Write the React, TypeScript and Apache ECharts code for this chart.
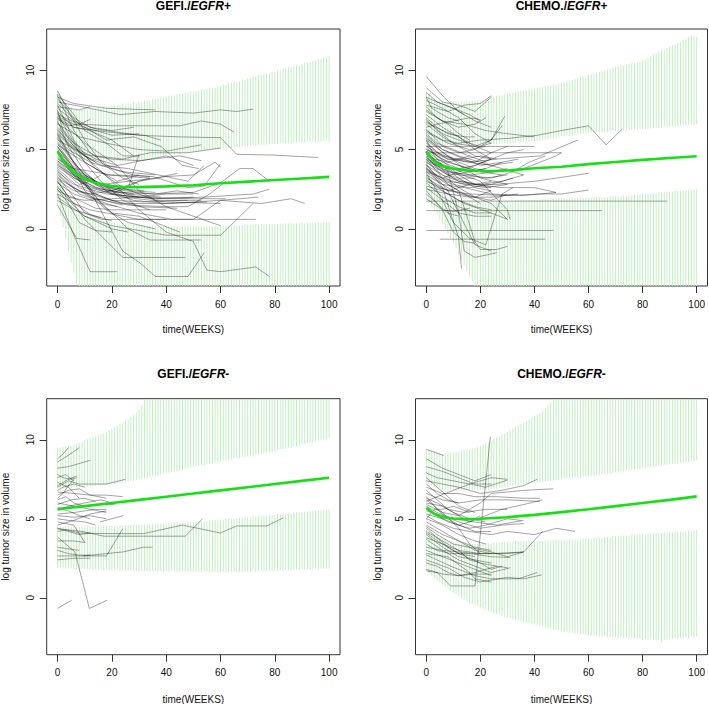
import React, { useEffect, useRef } from "react";
import * as echarts from "echarts";

// ---------- axes ----------
const xTicks = [0, 20, 40, 60, 80, 100];
const yTicks = [0, 5, 10];
const weeks = Array.from({ length: 101 }, (_, i) => i);

// ---------- titles ----------
const panelTitles = [
  ["GEFI./", "EGFR+"],
  ["CHEMO./", "EGFR+"],
  ["GEFI./", "EGFR-"],
  ["CHEMO./", "EGFR-"],
];
const xName = "time(WEEKS)";
const yName = "log tumor size in volume";

// ---------- mean curves (week, value) ----------
const gefiPosMeanW = [0, 2, 4, 6, 8, 10, 14, 20, 24, 30, 40, 50, 60, 70, 80, 90, 100];
const gefiPosMeanV = [4.9, 4.3, 3.9, 3.55, 3.35, 3.15, 2.9, 2.7, 2.65, 2.63, 2.68, 2.75, 2.88, 2.98, 3.08, 3.18, 3.28];
const chemoPosMeanW = [0, 2, 4, 6, 10, 15, 20, 25, 30, 35, 40, 50, 60, 70, 80, 90, 100];
const chemoPosMeanV = [4.9, 4.4, 4.1, 3.95, 3.8, 3.7, 3.65, 3.65, 3.68, 3.75, 3.82, 3.92, 4.08, 4.22, 4.35, 4.47, 4.58];
const gefiNegMeanW = [0, 10, 20, 30, 40, 50, 60, 70, 80, 90, 100];
const gefiNegMeanV = [5.62, 5.8, 6.0, 6.2, 6.4, 6.6, 6.8, 7.0, 7.2, 7.4, 7.6];
const chemoNegMeanW = [0, 3, 6, 10, 15, 20, 25, 30, 40, 50, 60, 70, 80, 90, 100];
const chemoNegMeanV = [5.7, 5.3, 5.1, 5.02, 4.98, 5.0, 5.05, 5.1, 5.25, 5.42, 5.6, 5.8, 6.0, 6.2, 6.42];

// ---------- prediction bands, one value per week 0..100 ----------
// GEFI./EGFR+
const gefiPosUpTop = [
  8.7, 8.4, 8.1, 7.9, 7.7, 7.6, 7.5, 7.5, 7.5, 7.5, 7.55,
  7.5, 7.6, 7.6, 7.6, 7.7, 7.6, 7.7, 7.7, 7.7, 7.8,
  7.8, 7.8, 7.8, 7.9, 7.8, 7.9, 7.9, 8.0, 7.9, 8.0,
  8.0, 8.1, 8.1, 8.1, 8.2, 8.2, 8.2, 8.3, 8.3, 8.35,
  8.4, 8.4, 8.4, 8.5, 8.5, 8.5, 8.6, 8.6, 8.7, 8.6,
  8.7, 8.7, 8.8, 8.8, 8.8, 8.9, 8.9, 8.9, 9.0, 9.0,
  9.1, 9.1, 9.2, 9.2, 9.3, 9.3, 9.3, 9.4, 9.4, 9.5,
  9.5, 9.6, 9.6, 9.7, 9.7, 9.8, 9.8, 9.8, 9.9, 9.9,
  10.0, 10.0, 10.1, 10.1, 10.2, 10.2, 10.3, 10.3, 10.3, 10.4,
  10.5, 10.5, 10.5, 10.6, 10.6, 10.7, 10.7, 10.8, 10.8, 10.9,
];
const gefiPosUpBot = [
  5.6, 5.3, 5.0, 4.8, 4.7, 4.6, 4.5, 4.45, 4.4, 4.4, 4.35,
  4.3, 4.3, 4.3, 4.3, 4.25, 4.25, 4.2, 4.25, 4.2, 4.2,
  4.2, 4.25, 4.2, 4.25, 4.3, 4.25, 4.3, 4.3, 4.3, 4.35,
  4.35, 4.4, 4.4, 4.45, 4.5, 4.5, 4.55, 4.6, 4.6, 4.65,
  4.7, 4.7, 4.7, 4.75, 4.75, 4.8, 4.8, 4.8, 4.85, 4.85,
  4.9, 4.9, 4.9, 4.95, 4.95, 5.0, 5.0, 5.0, 5.05, 5.05,
  5.05, 5.1, 5.1, 5.1, 5.15, 5.15, 5.15, 5.2, 5.2, 5.2,
  5.25, 5.25, 5.25, 5.3, 5.3, 5.3, 5.3, 5.35, 5.35, 5.35,
  5.35, 5.4, 5.4, 5.4, 5.4, 5.4, 5.45, 5.45, 5.45, 5.45,
  5.45, 5.5, 5.5, 5.5, 5.5, 5.5, 5.5, 5.55, 5.55, 5.55,
];
const gefiPosLowTop = [
  4.2, 3.4, 2.8, 2.3, 1.9, 1.6, 1.4, 1.2, 1.1, 1.0, 0.9,
  0.85, 0.8, 0.7, 0.65, 0.6, 0.55, 0.5, 0.5, 0.45, 0.4,
  0.4, 0.4, 0.35, 0.35, 0.3, 0.3, 0.3, 0.3, 0.25, 0.25,
  0.25, 0.2, 0.2, 0.2, 0.2, 0.2, 0.15, 0.15, 0.15, 0.15,
  0.15, 0.15, 0.15, 0.15, 0.15, 0.15, 0.15, 0.15, 0.15, 0.15,
  0.15, 0.15, 0.15, 0.15, 0.15, 0.2, 0.15, 0.2, 0.15, 0.2,
  0.2, 0.2, 0.2, 0.2, 0.2, 0.25, 0.2, 0.25, 0.25, 0.25,
  0.25, 0.25, 0.3, 0.25, 0.3, 0.3, 0.3, 0.3, 0.3, 0.3,
  0.3, 0.35, 0.3, 0.35, 0.35, 0.35, 0.35, 0.35, 0.35, 0.4,
  0.35, 0.4, 0.4, 0.4, 0.4, 0.4, 0.4, 0.45, 0.4, 0.45,
];
const gefiPosLowBot = [
  1.5, 0.8, 0.1, -0.6, -1.4, -2.1, -2.8, -3.5,
  -3.6, -3.6, -3.6, -3.6, -3.6, -3.6, -3.6, -3.6, -3.6, -3.6,
  -3.6, -3.6, -3.6, -3.6, -3.6, -3.6, -3.6, -3.6, -3.6, -3.6,
  -3.6, -3.6, -3.6, -3.6, -3.6, -3.6, -3.6, -3.6, -3.6, -3.6,
  -3.6, -3.6, -3.6, -3.6, -3.6, -3.6, -3.6, -3.6, -3.6, -3.6,
  -3.6, -3.6, -3.6, -3.6, -3.6, -3.6, -3.6, -3.6, -3.6, -3.6,
  -3.6, -3.6, -3.6, -3.6, -3.6, -3.6, -3.6, -3.6, -3.6, -3.6,
  -3.6, -3.6, -3.6, -3.6, -3.6, -3.6, -3.6, -3.6, -3.6, -3.6,
  -3.6, -3.6, -3.6, -3.6, -3.6, -3.6, -3.6, -3.6, -3.6, -3.6,
  -3.6, -3.6, -3.6, -3.6, -3.6, -3.6, -3.6, -3.6, -3.6, -3.6,
  -3.6, -3.6, -3.6,
];
// CHEMO./EGFR+
const chemoPosUpTop = [
  8.7, 8.5, 8.3, 8.2, 8.1, 8.1, 8.05, 8.0, 8.0, 8.05, 8.0,
  8.05, 8.0, 8.05, 8.05, 8.1, 8.05, 8.1, 8.1, 8.1, 8.1,
  8.1, 8.15, 8.15, 8.35, 8.35, 8.4, 8.4, 8.45, 8.5, 8.55,
  8.55, 8.6, 8.6, 8.65, 8.7, 8.7, 8.75, 8.8, 8.8, 8.85,
  8.9, 8.9, 8.95, 9.0, 9.0, 9.05, 9.1, 9.1, 9.15, 9.2,
  9.25, 9.3, 9.3, 9.4, 9.45, 9.5, 9.55, 9.6, 9.65, 9.7,
  9.75, 9.8, 9.85, 9.9, 9.95, 10.0, 10.05, 10.1, 10.15, 10.2,
  10.25, 10.3, 10.3, 10.35, 10.4, 10.45, 10.45, 10.5, 10.55, 10.6,
  10.7, 10.8, 10.9, 11.0, 11.1, 11.2, 11.25, 11.3, 11.4, 11.5,
  11.6, 11.65, 11.7, 11.8, 11.9, 12.0, 12.1, 12.2, 12.15, 12.1,
];
const chemoPosUpBot = [
  5.5, 5.4, 5.35, 5.3, 5.3, 5.3, 5.3, 5.3, 5.3, 5.3, 5.3,
  5.3, 5.3, 5.3, 5.3, 5.3, 5.3, 5.3, 5.3, 5.3, 5.3,
  5.3, 5.35, 5.35, 5.35, 5.35, 5.35, 5.4, 5.4, 5.4, 5.4,
  5.4, 5.4, 5.45, 5.45, 5.45, 5.5, 5.5, 5.5, 5.5, 5.5,
  5.55, 5.55, 5.6, 5.6, 5.65, 5.7, 5.7, 5.75, 5.8, 5.85,
  5.85, 5.9, 5.9, 5.9, 5.95, 5.95, 6.0, 6.0, 6.0, 6.05,
  6.05, 6.05, 6.1, 6.1, 6.1, 6.1, 6.1, 6.15, 6.15, 6.15,
  6.15, 6.15, 6.2, 6.2, 6.2, 6.25, 6.25, 6.25, 6.3, 6.3,
  6.3, 6.3, 6.35, 6.35, 6.35, 6.35, 6.4, 6.4, 6.4, 6.45,
  6.45, 6.45, 6.5, 6.5, 6.5, 6.5, 6.55, 6.55, 6.55, 6.6,
];
const chemoPosLowTop = [
  4.3, 3.7, 3.2, 2.8, 2.5, 2.3, 2.2, 2.1, 2.0, 1.95, 1.9,
  1.85, 1.85, 1.8, 1.8, 1.75, 1.75, 1.75, 1.7, 1.7, 1.7,
  1.7, 1.7, 1.7, 1.7, 1.7, 1.75, 1.75, 1.75, 1.75, 1.75,
  1.75, 1.75, 1.8, 1.8, 1.8, 1.8, 1.8, 1.8, 1.85, 1.85,
  1.85, 1.85, 1.85, 1.85, 1.9, 1.9, 1.9, 1.9, 1.9, 1.9,
  1.9, 1.9, 1.9, 1.9, 1.95, 1.95, 1.95, 1.95, 1.95, 1.95,
  1.95, 2.0, 2.0, 2.0, 2.0, 2.0, 2.0, 2.05, 2.05, 2.05,
  2.05, 2.05, 2.1, 2.1, 2.1, 2.1, 2.15, 2.15, 2.15, 2.2,
  2.2, 2.2, 2.25, 2.25, 2.25, 2.3, 2.3, 2.3, 2.35, 2.35,
  2.35, 2.4, 2.4, 2.4, 2.45, 2.45, 2.45, 2.5, 2.5, 2.5,
];
const chemoPosLowBot = [
  1.9, 1.65, 1.4, 1.15, 0.9, 0.6, 0.3, 0.0, -0.3, -0.6, -0.9,
  -1.25, -1.6, -1.95, -2.3, -2.65, -3.0, -3.3, -3.6,
  -3.6, -3.6, -3.6, -3.6, -3.6, -3.6, -3.6, -3.6, -3.6, -3.6,
  -3.6, -3.6, -3.6, -3.6, -3.6, -3.6, -3.6, -3.6, -3.6, -3.6,
  -3.6, -3.6, -3.6, -3.6, -3.6, -3.6, -3.6, -3.6, -3.6, -3.6,
  -3.6, -3.6, -3.6, -3.6, -3.6, -3.6, -3.6, -3.6, -3.6, -3.6,
  -3.6, -3.6, -3.6, -3.6, -3.6, -3.6, -3.6, -3.6, -3.6, -3.6,
  -3.6, -3.6, -3.6, -3.6, -3.6, -3.6, -3.6, -3.6, -3.6, -3.6,
  -3.6, -3.6, -3.6, -3.6, -3.6, -3.6, -3.6, -3.6, -3.6, -3.6,
  -3.6, -3.6, -3.6, -3.6, -3.6, -3.6, -3.6, -3.6, -3.6, -3.6,
  -3.6, -3.6,
];
// GEFI./EGFR-
const gefiNegUpTop = [
  9.5, 9.5, 9.55, 9.6, 9.6, 9.6, 9.65, 9.7, 9.8, 9.9, 10.0,
  10.05, 10.1, 10.15, 10.2, 10.3, 10.35, 10.4, 10.5, 10.6, 10.7,
  10.8, 10.9, 11.0, 11.1, 11.2, 11.3, 11.45, 11.6, 11.75, 11.9,
  12.2,
  12.6, 12.6, 12.6, 12.6, 12.6, 12.6, 12.6, 12.6, 12.6, 12.6,
  12.6, 12.6, 12.6, 12.6, 12.6, 12.6, 12.6, 12.6, 12.6, 12.6,
  12.6, 12.6, 12.6, 12.6, 12.6, 12.6, 12.6, 12.6, 12.6, 12.6,
  12.6, 12.6, 12.6, 12.6, 12.6, 12.6, 12.6, 12.6, 12.6, 12.6,
  12.6, 12.6, 12.6, 12.6, 12.6, 12.6, 12.6, 12.6, 12.6, 12.6,
  12.6, 12.6, 12.6, 12.6, 12.6, 12.6, 12.6, 12.6, 12.6, 12.6,
  12.6, 12.6, 12.6, 12.6, 12.6, 12.6, 12.6, 12.6, 12.6,
];
const gefiNegUpBot = [
  6.9, 6.9, 6.9, 6.95, 6.95, 6.95, 7.0, 7.0, 7.0, 7.0, 7.0,
  7.05, 7.05, 7.05, 7.1, 7.1, 7.1, 7.15, 7.15, 7.2, 7.2,
  7.2, 7.25, 7.25, 7.3, 7.3, 7.35, 7.4, 7.4, 7.45, 7.5,
  7.55, 7.55, 7.6, 7.65, 7.7, 7.7, 7.75, 7.8, 7.85, 7.9,
  7.9, 7.95, 8.0, 8.0, 8.05, 8.1, 8.15, 8.2, 8.25, 8.3,
  8.3, 8.35, 8.4, 8.4, 8.45, 8.45, 8.5, 8.55, 8.55, 8.6,
  8.65, 8.7, 8.7, 8.75, 8.8, 8.8, 8.85, 8.9, 8.9, 8.95,
  9.0, 9.0, 9.05, 9.1, 9.1, 9.15, 9.2, 9.2, 9.25, 9.3,
  9.35, 9.4, 9.4, 9.45, 9.5, 9.5, 9.55, 9.6, 9.65, 9.7,
  9.75, 9.8, 9.8, 9.85, 9.9, 9.95, 10.0, 10.0, 10.05, 10.1,
];
const gefiNegLowTop = [
  4.5, 4.5, 4.5, 4.5, 4.5, 4.5, 4.5, 4.5, 4.5, 4.5, 4.5,
  4.5, 4.5, 4.5, 4.5, 4.55, 4.55, 4.55, 4.55, 4.55, 4.55,
  4.55, 4.55, 4.6, 4.6, 4.6, 4.6, 4.6, 4.6, 4.6, 4.6,
  4.6, 4.65, 4.65, 4.65, 4.65, 4.65, 4.7, 4.7, 4.7, 4.7,
  4.7, 4.7, 4.75, 4.75, 4.75, 4.75, 4.75, 4.8, 4.8, 4.8,
  4.8, 4.85, 4.85, 4.85, 4.85, 4.9, 4.9, 4.9, 4.95, 4.95,
  4.95, 5.0, 5.0, 5.0, 5.0, 5.05, 5.05, 5.05, 5.1, 5.1,
  5.1, 5.15, 5.15, 5.15, 5.2, 5.2, 5.2, 5.25, 5.25, 5.25,
  5.3, 5.3, 5.3, 5.35, 5.35, 5.35, 5.4, 5.4, 5.4, 5.45,
  5.45, 5.45, 5.5, 5.5, 5.5, 5.55, 5.55, 5.55, 5.6, 5.6,
];
const gefiNegLowBot = [
  1.9, 1.9, 1.85, 1.85, 1.85, 1.85, 1.8, 1.8, 1.8, 1.8, 1.8,
  1.8, 1.8, 1.75, 1.8, 1.75, 1.75, 1.75, 1.8, 1.75, 1.75,
  1.75, 1.75, 1.7, 1.75, 1.7, 1.7, 1.75, 1.7, 1.7, 1.7,
  1.7, 1.7, 1.7, 1.65, 1.7, 1.7, 1.65, 1.7, 1.65, 1.7,
  1.65, 1.7, 1.65, 1.65, 1.65, 1.7, 1.65, 1.65, 1.65, 1.65,
  1.65, 1.65, 1.6, 1.65, 1.65, 1.6, 1.65, 1.65, 1.6, 1.65,
  1.65, 1.6, 1.65, 1.65, 1.65, 1.6, 1.65, 1.65, 1.65, 1.65,
  1.65, 1.7, 1.65, 1.7, 1.7, 1.65, 1.7, 1.7, 1.7, 1.7,
  1.7, 1.75, 1.7, 1.75, 1.75, 1.75, 1.75, 1.8, 1.75, 1.8,
  1.8, 1.8, 1.8, 1.8, 1.85, 1.8, 1.85, 1.85, 1.85, 1.85,
];
// CHEMO./EGFR-
const chemoNegUpTop = [
  9.4, 9.35, 9.3, 9.25, 9.2, 9.15, 9.1, 9.15, 9.15, 9.2, 9.2,
  9.25, 9.25, 9.3, 9.35, 9.4, 9.4, 9.45, 9.5, 9.55, 9.6,
  9.7, 9.8, 9.85, 9.95, 10.05, 10.15, 10.2, 10.3, 10.4, 10.5,
  10.6, 10.7, 10.8, 10.9, 11.0, 11.1, 11.2, 11.3, 11.4, 11.5,
  11.6, 11.7, 11.85, 12.0, 12.2, 12.4,
  12.6, 12.6, 12.6, 12.6, 12.6, 12.6, 12.6, 12.6, 12.6, 12.6,
  12.6, 12.6, 12.6, 12.6, 12.6, 12.6, 12.6, 12.6, 12.6, 12.6,
  12.6, 12.6, 12.6, 12.6, 12.6, 12.6, 12.6, 12.6, 12.6, 12.6,
  12.6, 12.6, 12.6, 12.6, 12.6, 12.6, 12.6, 12.6, 12.6, 12.6,
  12.6, 12.6, 12.6, 12.6, 12.6, 12.6, 12.6, 12.6, 12.6, 12.6,
  12.6, 12.6, 12.6, 12.6,
];
const chemoNegUpBot = [
  7.3, 7.2, 7.1, 7.0, 6.95, 6.9, 6.85, 6.85, 6.8, 6.8, 6.8,
  6.8, 6.8, 6.8, 6.8, 6.8, 6.8, 6.8, 6.8, 6.8, 6.8,
  6.85, 6.85, 6.85, 6.9, 6.9, 6.9, 6.95, 6.95, 7.0, 7.0,
  7.05, 7.05, 7.1, 7.1, 7.15, 7.15, 7.2, 7.2, 7.25, 7.3,
  7.3, 7.3, 7.35, 7.35, 7.4, 7.4, 7.4, 7.45, 7.45, 7.5,
  7.5, 7.55, 7.55, 7.55, 7.6, 7.6, 7.6, 7.65, 7.65, 7.7,
  7.7, 7.7, 7.75, 7.75, 7.8, 7.8, 7.85, 7.85, 7.9, 7.95,
  7.95, 8.0, 8.0, 8.05, 8.05, 8.1, 8.1, 8.15, 8.15, 8.2,
  8.2, 8.25, 8.25, 8.3, 8.3, 8.35, 8.35, 8.4, 8.4, 8.45,
  8.45, 8.5, 8.5, 8.55, 8.55, 8.6, 8.6, 8.65, 8.65, 8.7,
];
const chemoNegLowTop = [
  4.3, 4.2, 4.1, 4.0, 3.9, 3.8, 3.75, 3.7, 3.6, 3.55, 3.5,
  3.5, 3.45, 3.45, 3.45, 3.4, 3.4, 3.4, 3.4, 3.4, 3.4,
  3.45, 3.45, 3.45, 3.45, 3.5, 3.5, 3.5, 3.55, 3.55, 3.55,
  3.55, 3.55, 3.6, 3.6, 3.6, 3.6, 3.6, 3.6, 3.6, 3.6,
  3.6, 3.6, 3.6, 3.6, 3.65, 3.65, 3.65, 3.65, 3.65, 3.65,
  3.65, 3.65, 3.7, 3.7, 3.7, 3.7, 3.7, 3.75, 3.75, 3.75,
  3.75, 3.8, 3.8, 3.8, 3.8, 3.85, 3.85, 3.85, 3.9, 3.9,
  3.9, 3.9, 3.95, 3.95, 3.95, 4.0, 4.0, 4.0, 4.0, 4.05,
  4.05, 4.05, 4.05, 4.1, 4.1, 4.1, 4.1, 4.15, 4.15, 4.15,
  4.15, 4.2, 4.2, 4.2, 4.2, 4.25, 4.25, 4.25, 4.3, 4.3,
];
const chemoNegLowBot = [
  1.7, 1.55, 1.4, 1.25, 1.1, 1.0, 0.85, 0.7, 0.6, 0.45, 0.3,
  0.2, 0.1, 0.0, -0.1, -0.2, -0.3, -0.4, -0.45, -0.55, -0.6,
  -0.7, -0.8, -0.85, -0.95, -1.0, -1.05, -1.1, -1.15, -1.2, -1.25,
  -1.3, -1.35, -1.4, -1.45, -1.5, -1.55, -1.6, -1.6, -1.65, -1.7,
  -1.75, -1.8, -1.85, -1.9, -1.95, -1.95, -2.0, -2.05, -2.05, -2.1,
  -2.15, -2.15, -2.2, -2.2, -2.25, -2.25, -2.3, -2.3, -2.35, -2.35,
  -2.4, -2.4, -2.4, -2.45, -2.45, -2.45, -2.5, -2.5, -2.5, -2.5,
  -2.55, -2.5, -2.55, -2.55, -2.55, -2.6, -2.55, -2.6, -2.6, -2.65,
  -2.6, -2.65, -2.6, -2.65, -2.7, -2.65, -2.8, -2.7, -2.65, -2.6,
  -2.6, -2.55, -2.6, -2.55, -2.5, -2.5, -2.55, -2.45, -2.5, -2.45,
];

// ---------- individual trajectories: [week, value, week, value, ...] ----------
const gefiPosTraj = [
  [0, 8.0, 6, 7.8, 12, 7.6, 23, 7.2, 36, 7.4, 50, 7.3, 60, 7.5, 66, 7.4, 72, 7.55],
  [0, 8.3, 6, 7.9, 18, 7.6, 36, 7.5],
  [0, 7.2, 8, 6.6, 20, 6.5, 30, 6.5, 45, 6.5, 53, 6.8, 60, 6.6, 65, 6.1],
  [0, 7.6, 6, 6.8, 14, 6.3, 30, 5.9, 45, 5.8, 60, 5.75, 66, 4.7, 80, 4.65, 96, 4.5],
  [0, 6.6, 8, 5.8, 18, 5.4, 30, 5.0, 40, 4.9, 53, 5.3],
  [0, 5.6, 10, 4.7, 20, 4.4, 30, 4.3, 45, 4.6, 53, 4.3],
  [0, 4.4, 6, 3.8, 20, 3.4, 35, 3.3, 48, 2.6, 54, 2.7, 60, 4.1],
  [0, 4.0, 8, 3.2, 20, 2.5, 35, 2.2, 50, 2.3, 60, 2.9, 67, 3.8, 72, 3.8, 78, 3.0],
  [0, 3.6, 6, 2.8, 18, 2.2, 36, 1.9, 54, 2.0, 72, 2.2, 78, 2.5],
  [0, 3.2, 8, 2.4, 24, 1.6, 40, 1.6, 60, 1.8, 75, 1.6, 86, 1.9, 91, 1.6],
  [0, 2.6, 6, 1.6, 12, 1.2, 30, 0.6, 50, 0.6, 73, 0.6],
  [0, 2.0, 10, 0.8, 20, 0.2, 40, -0.4, 60, -0.4, 72, 1.6],
  [0, 1.5, 7, -0.6, 12, -0.7],
  [0, 2.2, 6, -0.4, 12, -2.7, 22, -2.7],
  [0, 3.0, 10, 0.6, 24, -1.8, 36, -1.8, 47, -1.8],
  [0, 5.2, 12, 2.4, 24, -1.4, 30, -2.1, 36, -3.0, 48, -3.0, 54, -1.5],
  [0, 4.8, 14, 2.0, 26, 0.0, 34, -0.7, 53, -0.7],
  [0, 6.2, 10, 4.6, 20, 3.0, 30, 1.2, 40, -0.2, 50, -0.8, 55, -2.6, 60, -2.7, 73, -2.4, 78, -3.0],
  [0, 7.0, 10, 5.4, 22, 4.0, 30, 2.4, 40, 1.4, 60, 0.2],
  [0, 8.7, 4, 7.4, 10, 5.6, 16, 4.2, 24, 3.2, 30, 2.8],
  [0, 8.4, 6, 6.2, 12, 4.8, 20, 3.8, 28, 3.4, 34, 3.3],
  [0, 7.8, 6, 5.6, 14, 3.8, 24, 2.6, 36, 1.8, 48, 1.8],
  [0, 6.8, 4, 5.2, 10, 3.6, 18, 2.4, 28, 1.8, 40, 1.6, 55, 1.7],
  [0, 6.0, 6, 4.2, 12, 3.0, 20, 2.2, 30, 2.0],
  [0, 5.4, 6, 3.8, 14, 2.8, 24, 2.1, 36, 1.9, 50, 2.0],
  [0, 5.0, 4, 4.0, 10, 3.2, 20, 2.6, 32, 2.4],
  [0, 4.6, 6, 3.4, 12, 2.6, 24, 2.0, 40, 1.7, 60, 1.6],
  [0, 4.2, 6, 3.2, 16, 2.5, 28, 2.2],
  [0, 3.8, 8, 2.6, 20, 1.8, 30, 1.4, 44, 1.3],
  [0, 3.4, 4, 2.8, 12, 2.0, 24, 1.5],
  [0, 2.9, 6, 2.2, 16, 1.6, 22, 1.4],
  [0, 2.4, 8, 1.8, 14, 1.3, 20, 1.2, 34, 1.2],
  [0, 6.4, 6, 5.4, 14, 4.6, 24, 4.4, 34, 4.8, 48, 4.8, 60, 5.1],
  [0, 7.4, 6, 6.4, 14, 6.2, 24, 6.0, 32, 5.9, 38, 5.6],
  [0, 5.8, 4, 5.0, 12, 4.2, 24, 3.6, 30, 3.5, 36, 3.4],
  [0, 4.9, 8, 3.6, 16, 2.8, 26, 2.6, 30, 4.7],
  [0, 3.9, 10, 2.8, 20, 2.2, 30, 3.0, 40, 3.3, 48, 3.0, 54, 4.0],
  [0, 3.3, 6, 2.0, 10, 1.0, 16, 0.6, 24, 0.6, 40, 0.6],
  [0, 2.7, 4, 1.8, 10, 0.8, 20, 0.0, 26, -0.2],
  [0, 8.2, 6, 7.0, 12, 6.4, 20, 6.2, 28, 6.4],
  [0, 6.1, 6, 5.0, 16, 4.0, 26, 3.8, 40, 3.3, 50, 3.4, 58, 4.2, 60, 3.9],
  [0, 5.3, 8, 4.4, 18, 3.4, 26, 3.3, 34, 3.2],
  [0, 4.5, 8, 3.0, 14, 2.2, 20, 1.8, 32, 1.7, 46, 1.8, 53, 1.8],
  [0, 3.7, 6, 2.6, 14, 1.9, 26, 1.5, 40, 1.4, 48, 1.4, 56, 2.2, 62, 3.0],
  [0, 7.9, 8, 6.6, 18, 5.6, 28, 5.8, 38, 5.2, 46, 4.0, 52, 3.8],
  [0, 7.0, 6, 6.4, 12, 6.2, 20, 5.6, 28, 4.6],
  [0, 6.3, 4, 5.4, 10, 4.6, 18, 4.0, 22, 3.9],
  [0, 5.7, 6, 4.2, 10, 3.4, 16, 2.8, 26, 2.2, 38, 2.0],
  [0, 4.3, 4, 3.6, 10, 2.8, 14, 2.3],
  [0, 3.5, 8, 2.2, 18, 1.6, 30, 1.0, 42, 0.6, 50, 0.6, 60, 1.8, 74, 2.0],
  [0, 2.2, 8, 1.4, 12, 0.9, 20, 0.5],
  [0, 1.8, 6, 1.2, 16, 0.7],
  [0, 7.5, 2, 6.2, 6, 5.2, 10, 4.6, 14, 4.2],
  [0, 8.5, 6, 7.2, 10, 6.2, 18, 5.4, 24, 4.6, 30, 4.6],
  [0, 6.7, 6, 5.4, 10, 4.2, 16, 3.6, 22, 3.0, 30, 3.4],
  [0, 5.1, 10, 3.4, 20, 2.4, 30, 2.0, 40, 2.2, 50, 2.2],
  [0, 4.7, 6, 3.8, 10, 2.4, 18, 1.2, 26, 0.4, 36, 0.0],
  [0, 3.1, 6, 2.4, 12, 2.2, 20, 2.4, 30, 3.0, 34, 3.2],
  [0, 4.1, 4, 3.4, 8, 2.8, 12, 3.0, 16, 3.4],
  [0, 5.5, 4, 4.6, 8, 3.8, 14, 3.0, 20, 2.6, 28, 2.4, 36, 2.3],
  [0, 7.3, 4, 6.0, 8, 5.0, 14, 4.4, 22, 4.0, 40, 4.6, 50, 4.0],
  [0, 6.0, 8, 4.6, 16, 3.0, 24, 1.8, 34, 1.2, 40, 1.2],
  [0, 5.9, 10, 3.0, 16, 1.6, 20, 1.0, 30, 0.8, 45, -0.2],
  [0, 2.5, 4, 1.6, 8, 0.4, 14, -0.1, 20, -0.2],
  [0, 3.0, 4, 2.0, 10, 1.8, 20, 1.9, 30, 2.0, 50, 1.9, 62, 1.9],
  [0, 4.3, 8, 3.2, 14, 2.6, 22, 2.3, 36, 2.2, 44, 2.4, 52, 2.2],
  [0, 5.2, 6, 3.6, 16, 2.8, 26, 3.0, 36, 3.2, 44, 3.5],
  [0, 7.7, 4, 7.6, 8, 7.5, 12, 7.7],
  [0, 6.9, 4, 6.5, 8, 6.6, 12, 6.9],
  [0, 7.1, 6, 6.6, 20, 5.9, 30, 6.0],
];
const chemoPosTraj = [
  [0, 9.6, 6, 8.4, 12, 7.4, 18, 6.8, 24, 6.4],
  [0, 8.9, 6, 8.0, 12, 7.8, 18, 7.4, 24, 8.3],
  [0, 8.3, 4, 8.0, 10, 7.6, 16, 7.2, 20, 6.8],
  [0, 8.1, 6, 7.6, 12, 7.0, 18, 6.0, 24, 5.4],
  [0, 7.8, 8, 7.4, 14, 7.8, 20, 7.9, 24, 8.4],
  [0, 7.5, 6, 6.8, 12, 6.4, 18, 6.6, 22, 7.0],
  [0, 7.2, 6, 6.4, 12, 5.8, 18, 5.2, 24, 4.8],
  [0, 6.9, 4, 6.2, 10, 5.4, 18, 5.2, 24, 5.6, 29, 7.1],
  [0, 6.6, 6, 5.8, 12, 5.2, 18, 4.6, 24, 4.4],
  [0, 6.3, 6, 5.2, 12, 4.8, 18, 5.0, 24, 5.6, 28, 6.5],
  [0, 6.0, 4, 5.4, 10, 5.0, 16, 4.6, 22, 4.2],
  [0, 5.8, 6, 4.8, 12, 4.2, 18, 3.8, 24, 3.6, 30, 3.8],
  [0, 5.6, 3, 4.6, 8, 3.6, 12, 1.0, 18, -1.0, 24, -1.4],
  [0, 5.4, 6, 4.6, 12, 4.4, 18, 4.2, 24, 4.8, 30, 5.2],
  [0, 5.2, 4, 4.8, 10, 4.4, 16, 4.2, 24, 4.0, 32, 4.2],
  [0, 5.0, 6, 4.4, 12, 4.0, 20, 3.6, 28, 3.4],
  [0, 4.9, 4, 4.2, 10, 3.8, 16, 3.4, 22, 3.2, 30, 3.4],
  [0, 4.8, 6, 4.0, 12, 3.2, 18, 2.6, 24, 2.4],
  [0, 4.6, 4, 3.8, 10, 3.4, 16, 3.6, 22, 3.8, 28, 4.2],
  [0, 4.5, 6, 3.6, 12, 3.0, 20, 2.8, 28, 3.0, 36, 3.4],
  [0, 4.4, 4, 3.6, 8, 2.8, 14, 2.2, 20, 1.6],
  [0, 4.2, 6, 3.4, 12, 2.6, 18, 2.0, 24, 1.8, 30, 2.2],
  [0, 4.1, 4, 3.2, 8, 2.4, 12, 1.0, 14, -1.4, 18, -1.8, 26, -1.5],
  [0, 4.0, 6, 3.4, 12, 3.0, 18, 2.8, 24, 3.0],
  [0, 3.9, 6, 2.6, 12, -0.6, 13, -2.5],
  [0, 3.8, 4, 3.2, 10, 2.8, 16, 2.6, 24, 2.8, 32, 3.2],
  [0, 3.6, 6, 2.8, 12, 2.2, 18, 2.0, 24, 2.4],
  [0, 3.5, 6, 1.8, 10, 0.4, 16, -0.6, 22, -1.0, 28, 2.2, 32, 2.6],
  [0, 3.3, 6, 2.4, 12, 1.8, 18, 1.4, 24, 1.2],
  [0, 3.1, 4, 2.6, 10, 2.4, 18, 2.0, 24, 1.6, 30, 0.6],
  [0, 2.9, 6, 2.0, 12, 1.4, 18, 1.0, 24, 1.0],
  [0, 2.6, 6, 1.8, 12, 1.0, 18, 0.8, 24, 0.8],
  [0, 2.4, 6, 1.2, 10, -0.2, 14, -0.8, 18, -0.9],
  [0, 2.2, 4, 1.6, 8, 1.0, 12, 0.8],
  [0, 1.9, 6, 1.2, 10, 1.1, 16, 1.3],
  [0, -0.1, 20, -0.1, 47, -0.1],
  [5, -0.65, 20, -0.65, 44, -0.65],
  [0, 1.75, 30, 1.75, 60, 1.75, 89, 1.75],
  [0, 1.15, 30, 1.15, 65, 1.15],
  [0, 5.2, 20, 5.2, 40, 5.2],
  [0, 4.8, 20, 4.8, 35, 4.8, 50, 4.8],
  [0, 6.2, 6, 5.6, 12, 5.4, 20, 5.6, 30, 5.7, 41, 5.9, 50, 6.2, 60, 6.5, 66.5, 5.3, 72.5, 6.3],
  [0, 5.0, 8, 4.4, 16, 4.2, 26, 4.4, 34, 4.5, 42, 4.6, 56, 5.6],
  [0, 4.3, 8, 3.6, 16, 3.4, 26, 3.6, 36, 3.8, 48, 4.6, 50, 4.8],
  [0, 3.7, 8, 3.0, 16, 2.8, 26, 2.8, 40, 3.0, 52, 3.3, 60, 3.5],
  [0, 3.0, 8, 2.4, 16, 2.2, 30, 2.1, 42, 2.2, 50, 2.2, 60, 2.45],
  [0, 3.4, 6, 2.8, 14, 2.6, 24, 2.2, 36, 2.1, 48, 2.3],
  [0, 4.7, 6, 3.8, 12, 3.4, 24, 3.2, 32, 3.6, 38, 4.2, 44, 4.6],
  [0, 5.5, 4, 4.8, 8, 4.4, 14, 4.4, 20, 4.6, 26, 4.4],
  [0, 6.8, 6, 6.0, 12, 5.6, 20, 5.2, 24, 5.4],
  [0, 7.0, 4, 6.4, 8, 6.0, 14, 5.8, 18, 5.8],
  [0, 6.4, 4, 6.6, 10, 6.8, 16, 7.0, 20, 6.9],
  [0, 8.6, 4, 8.0, 10, 7.6, 14, 7.2],
  [0, 7.7, 4, 7.0, 8, 6.6, 12, 6.0, 16, 5.6],
  [0, 5.3, 4, 4.6, 8, 4.0, 12, 3.4, 18, 2.8, 24, 2.6],
  [0, 4.9, 6, 4.2, 12, 3.8, 18, 4.0, 24, 4.4, 30, 4.8, 36, 5.0],
  [0, 4.5, 4, 4.0, 8, 3.8, 16, 3.6, 22, 3.8],
  [0, 3.2, 4, 2.8, 8, 2.4, 12, 2.6, 16, 2.8],
  [0, 2.7, 6, 2.4, 14, 1.6, 24, 1.0, 30, 0.6],
  [0, 4.0, 6, 3.0, 12, 2.4, 18, -0.8, 20, -1.3, 26, -1.3, 30, -1.1],
  [0, 5.7, 6, 5.0, 14, 4.4, 20, 4.0, 28, 4.2, 34, 4.4],
  [0, 6.1, 8, 5.4, 16, 5.0, 22, 5.2],
  [0, 7.4, 6, 6.8, 14, 6.6, 22, 6.2, 30, 6.0, 40, 5.8],
  [0, 5.9, 6, 5.0, 12, 4.6, 20, 4.2, 28, 3.8, 36, 3.4],
  [0, 4.4, 4, 4.0, 10, 3.2, 18, 2.8, 28, 2.6, 40, 2.6, 48, 2.3],
  [0, 3.8, 6, 3.2, 14, 2.8, 22, 2.6, 30, 2.8],
  [0, 4.2, 4, 3.8, 8, 3.4, 12, 3.2, 18, 3.2],
  [0, 5.1, 4, 4.6, 8, 4.2, 12, 4.0, 16, 3.8, 20, 3.6],
  [0, 4.7, 3, 4.4, 8, 4.2, 12, 4.4, 16, 4.6],
  [0, 3.6, 6, 3.2, 12, 3.6, 18, 4.0, 24, 4.4],
  [0, 2.5, 8, 2.2, 16, 2.0, 24, 2.0, 34, 2.2],
  [0, 8.3, 2, 7.6, 8, 7.0, 12, 6.8],
  [0, 5.6, 8, 4.6, 14, 3.8, 20, 3.2, 30, 2.8],
  [0, 4.6, 6, 4.0, 10, 3.6, 20, 3.0, 30, 1.2, 31, 0.6],
  [0, 6.7, 6, 6.2, 12, 5.8, 18, 5.0, 24, 4.4],
];
const gefiNegTraj = [
  [0, 8.6, 3, 8.9, 8, 9.5],
  [0, 8.2, 4, 8.3, 8, 8.5, 12, 8.7],
  [0, 8.8, 2, 9.1, 4, 9.5],
  [0, 7.3, 4, 7.0, 8, 6.3],
  [0, 7.6, 3, 7.8, 6, 7.4],
  [0, 7.0, 4, 7.4, 8, 7.2, 18, 7.2, 25, 7.5],
  [0, 6.7, 6, 6.6, 12, 6.5, 18, 6.5, 24, 6.4],
  [0, 6.5, 4, 6.8, 8, 6.9, 12, 6.5, 18, 6.3],
  [0, 6.2, 3, 6.4, 6, 6.0, 10, 5.8, 16, 5.9, 21, 5.9],
  [0, 5.9, 5, 6.2, 10, 6.3, 14, 6.1],
  [0, 7.8, 2, 7.6, 5, 7.5, 7, 7.6],
  [0, 7.1, 4, 7.5, 7, 7.7],
  [0, 6.0, 6, 5.8, 12, 5.6, 18, 5.4],
  [0, 5.7, 4, 5.5, 8, 5.2, 12, 5.0],
  [0, 5.2, 6, 5.1, 12, 5.2, 18, 5.0],
  [0, 5.0, 4, 4.9, 10, 4.8, 14, 4.6],
  [0, 4.8, 6, 4.6, 10, 3.5],
  [0, 4.4, 4, 4.2, 8, 4.0, 12, 4.1],
  [0, 4.2, 3, 4.3, 8, 4.1, 19, 4.06, 31.6, 4.06, 46, 4.6, 60, 4.1, 66, 4.55, 77, 4.55, 83, 5.05],
  [0, 4.37, 9, 4.2, 17, 3.9, 47, 3.9, 53.4, 5.0],
  [0, 2.65, 12, 2.65, 18, 2.65, 24, 4.37],
  [9.5, 2.65, 24, 2.9, 31.6, 3.2, 35, 3.2],
  [0, 3.85, 6.4, 2.9, 11.7, -0.67, 18.3, -0.15],
  [0, -0.67, 5.2, -0.15],
  [0, 2.4, 6, 2.5, 12, 2.5],
  [15.6, 4.8, 24.2, 5.2],
  [0, 3.6, 6, 3.6, 10, 3.5],
  [0, 3.2, 4, 3.1, 8, 3.0],
  [0, 6.8, 2, 7.0, 6, 7.2, 10, 7.0],
  [0, 5.5, 4, 5.8, 10, 6.0, 16, 6.2, 20, 6.0],
  [0, 4.6, 6, 4.9, 12, 5.3, 18, 5.5],
  [0, 3.0, 4, 2.8, 8, 2.7, 12, 2.7],
  [0, 6.3, 2, 6.6, 4, 7.1, 6, 7.5],
  [0, 5.3, 6, 5.4, 14, 5.6, 18, 5.6],
];
const chemoNegTraj = [
  [0, 9.4, 6.5, 9.0],
  [0, 8.8, 6, 8.2, 12, 7.8, 18, 7.4, 24, 7.8],
  [0, 8.3, 6, 8.0, 12, 7.6, 18, 7.2, 24, 7.2],
  [0, 7.9, 4, 7.6, 10, 7.4, 16, 7.2, 22, 7.0, 30, 7.45],
  [0, 7.4, 6, 7.2, 12, 7.0, 20, 6.6, 28, 6.8, 36, 7.1, 41, 7.5],
  [0, 7.0, 6, 6.6, 12, 6.6, 18, 6.4, 26, 6.4, 36, 6.3, 42, 6.3],
  [0, 6.6, 6, 6.2, 12, 6.0, 20, 6.2, 30, 6.2, 42, 6.1],
  [0, 6.3, 4, 6.0, 8, 5.6, 14, 5.4, 22, 5.6, 30, 5.6],
  [0, 6.0, 6, 5.8, 10, 5.4, 16, 5.0, 22, 4.8],
  [0, 5.8, 4, 5.4, 10, 5.0, 18, 4.8, 26, 4.6, 36, 4.9],
  [0, 5.5, 6, 5.2, 12, 4.8, 20, 4.4, 28, 4.6, 36, 4.7],
  [0, 5.2, 4, 4.8, 10, 4.4, 16, 4.2, 24, 4.0, 30, 4.2, 40, 4.0, 48, 4.4, 55, 4.2],
  [0, 5.0, 6, 4.6, 12, 4.0, 18, 3.6, 22, 3.4],
  [0, 4.8, 6, 4.2, 12, 3.6, 18, 3.0, 24, 2.8],
  [0, 4.5, 4, 4.0, 10, 3.4, 16, 3.2, 24, 2.9, 30, 2.6, 36, 2.9, 43, 4.2],
  [0, 4.2, 6, 3.6, 12, 3.0, 20, 2.8, 30, 2.8, 36, 2.9],
  [0, 4.0, 6, 3.2, 12, 2.6, 18, 2.4, 24, 2.2],
  [0, 3.7, 6, 3.0, 12, 2.4, 18, 2.0, 24, 1.6, 31, 1.9],
  [0, 3.4, 4, 3.0, 9, 2.8, 16, 2.8, 24, 2.6, 31, 2.55],
  [0, 3.0, 6, 2.6, 12, 2.2, 18, 1.8, 24, 1.4],
  [0, 2.7, 4, 2.4, 9, 2.0, 18, 1.4, 24, 1.2, 34, 1.2, 41, 1.6],
  [0, 1.8, 6, 1.5, 12, 1.4, 18, 1.5, 24, 1.5],
  [0, 1.7, 4, 1.6, 9, 0.75, 18, 0.75, 23.7, 10.2],
  [0, 2.4, 8, 1.9, 14, 1.3, 20, 1.0, 30, 1.3, 36, 1.2, 42.7, 1.45],
  [0, 6.8, 8, 5.6, 16, 4.8, 22, 5.2, 28, 5.6, 36, 5.9, 43, 6.2],
  [0, 6.4, 4, 5.6, 8, 5.0, 12, 4.6, 18, 4.2, 24, 4.2],
  [0, 5.9, 6, 5.4, 12, 5.2, 16, 5.6, 20, 6.0, 24, 6.6, 30, 6.7, 36, 6.8, 47, 6.9],
  [0, 5.6, 4, 5.2, 8, 4.8, 12, 4.6, 16, 4.8, 20, 5.2],
  [0, 4.6, 6, 4.0, 12, 3.6, 18, 3.2, 24, 3.0],
  [0, 3.2, 6, 3.0, 12, 2.9, 18, 2.8, 24, 2.8, 36, 2.9],
  [0, 4.1, 6, 3.4, 12, 2.8, 20, 2.2, 24, 1.8, 28, 2.0],
  [0, 7.6, 4, 7.0, 8, 6.4, 12, 5.8, 18, 5.4],
  [0, 6.1, 4, 6.4, 10, 6.8, 16, 7.2, 24, 7.6, 30, 7.5],
  [0, 5.3, 6, 5.0, 12, 4.6, 16, 4.4, 22, 4.6, 30, 5.0, 35, 4.9],
  [0, 4.4, 4, 3.8, 8, 3.2, 12, 2.8, 18, 2.6],
  [0, 2.2, 4, 2.0, 8, 1.6, 12, 1.4, 18, 1.6, 26, 2.0, 30, 1.9],
  [0, 6.2, 6, 5.4, 12, 4.4, 16, 3.4, 20, 2.8],
  [0, 3.8, 6, 3.4, 12, 3.0, 16, 2.4, 20, 2.2, 26, 2.0],
  [0, 7.2, 4, 6.6, 8, 6.2, 12, 6.0],
  [0, 5.0, 3, 5.6, 6, 5.6, 10, 5.8, 16, 5.4],
  [0, 2.8, 8, 2.6, 16, 1.6, 18, 1.2, 24, 1.0],
];

// ---------- panel assembly ----------
const panels = [
  { title: panelTitles[0], traj: gefiPosTraj, meanW: gefiPosMeanW, meanV: gefiPosMeanV, bands: [[gefiPosUpBot, gefiPosUpTop], [gefiPosLowBot, gefiPosLowTop]] },
  { title: panelTitles[1], traj: chemoPosTraj, meanW: chemoPosMeanW, meanV: chemoPosMeanV, bands: [[chemoPosUpBot, chemoPosUpTop], [chemoPosLowBot, chemoPosLowTop]] },
  { title: panelTitles[2], traj: gefiNegTraj, meanW: gefiNegMeanW, meanV: gefiNegMeanV, bands: [[gefiNegUpBot, gefiNegUpTop], [gefiNegLowBot, gefiNegLowTop]] },
  { title: panelTitles[3], traj: chemoNegTraj, meanW: chemoNegMeanW, meanV: chemoNegMeanV, bands: [[chemoNegUpBot, chemoNegUpTop], [chemoNegLowBot, chemoNegLowTop]] },
];

const FONT = "'Liberation Sans', Arial, Helvetica, sans-serif";
const grids = [
  { left: 46.7, top: 29, width: 293.3, height: 257 },
  { left: 415.5, top: 29, width: 292, height: 257 },
  { left: 46.7, top: 398.7, width: 293.3, height: 256 },
  { left: 415.5, top: 398.7, width: 292, height: 256 },
];
const yNameX = [5, 377.5, 5, 377.5];

function buildOption() {
  const series: any[] = [];
  const graphics: any[] = [];
  panels.forEach((p, g) => {
    p.bands.forEach(([lows, highs]) => {
      series.push({
        type: "custom",
        xAxisIndex: g,
        yAxisIndex: g,
        clip: true,
        silent: true,
        z: 1,
        data: weeks.filter((w) => lows[w] != null && highs[w] != null).map((w) => [w, lows[w], highs[w]]),
        renderItem: (params: any, api: any) => {
          const x = api.value(0);
          const p1 = api.coord([x, api.value(1)]);
          const p2 = api.coord([x, api.value(2)]);
          const cs = params.coordSys;
          const top = cs.y;
          const bot = cs.y + cs.height;
          const y1 = Math.min(Math.max(p1[1], top), bot);
          const y2 = Math.min(Math.max(p2[1], top), bot);
          return {
            type: "line",
            shape: { x1: p1[0], y1, x2: p1[0], y2 },
            style: { stroke: "#c2efc2", lineWidth: 1 },
          };
        },
      });
    });
    series.push({
      type: "custom",
      xAxisIndex: g,
      yAxisIndex: g,
      clip: true,
      silent: true,
      z: 2,
      data: p.traj.map((t) => [t[0], t[1]]),
      renderItem: (params: any, api: any) => {
        const t = p.traj[params.dataIndex];
        const pts: number[][] = [];
        for (let k = 0; k + 1 < t.length; k += 2) pts.push(api.coord([t[k], t[k + 1]]));
        return {
          type: "polyline",
          shape: { points: pts },
          style: { stroke: "rgba(0,0,0,0.36)", lineWidth: 1, fill: null },
        };
      },
    });
    series.push({
      type: "line",
      xAxisIndex: g,
      yAxisIndex: g,
      silent: true,
      z: 3,
      symbol: "none",
      showSymbol: false,
      data: p.meanW.map((w, i) => [w, p.meanV[i]]),
      lineStyle: { color: "#14e014", width: 2.6 },
    });

    const gr = grids[g];
    const cx = gr.left + gr.width / 2;
    const cy = gr.top + gr.height / 2;
    graphics.push({
      type: "text",
      x: cx,
      y: g < 2 ? 5.5 : 374,
      silent: true,
      style: {
        text: "{a|" + p.title[0] + "}{b|" + p.title[1] + "}",
        align: "center",
        verticalAlign: "middle",
        fill: "#000",
        rich: {
          a: { fontFamily: FONT, fontSize: 12, fontWeight: "bold", fill: "#000" },
          b: { fontFamily: FONT, fontSize: 12, fontWeight: "bold", fontStyle: "italic", fill: "#000" },
        },
      },
    });
    graphics.push({
      type: "text",
      x: cx,
      y: g < 2 ? 329.5 : 699,
      silent: true,
      style: { text: xName, align: "center", verticalAlign: "middle", fontFamily: FONT, fontSize: 10, fill: "#111" },
    });
    graphics.push({
      type: "text",
      x: yNameX[g],
      y: cy,
      rotation: Math.PI / 2,
      silent: true,
      style: { text: yName, align: "center", verticalAlign: "middle", fontFamily: FONT, fontSize: 10, fill: "#111" },
    });
  });

  return {
    animation: false,
    backgroundColor: "#ffffff",
    grid: grids.map((gr) => ({ ...gr, show: true, borderColor: "#333", borderWidth: 1, backgroundColor: "transparent", containLabel: false })),
    xAxis: grids.map((_, g) => ({
      gridIndex: g,
      type: "value",
      min: -4,
      max: 104,
      splitLine: { show: false },
      axisLine: { show: false, onZero: false },
      axisTick: { show: true, length: 7, lineStyle: { color: "#333" }, customValues: xTicks },
      axisLabel: { customValues: xTicks, margin: 13, fontSize: 10, color: "#111", fontFamily: FONT },
    })),
    yAxis: grids.map((_, g) => ({
      gridIndex: g,
      type: "value",
      min: -3.6,
      max: 12.6,
      splitLine: { show: false },
      axisLine: { show: false, onZero: false },
      axisTick: { show: true, length: 7, lineStyle: { color: "#333" }, customValues: yTicks },
      axisLabel: { customValues: yTicks, margin: 11, rotate: 90, fontSize: 10, color: "#111", fontFamily: FONT },
    })),
    series,
    graphic: graphics,
  };
}

export default function App() {
  const ref = useRef<HTMLDivElement>(null);
  useEffect(() => {
    document.body.style.margin = "0";
    if (!ref.current) return;
    const chart = echarts.init(ref.current, null, { renderer: "svg" });
    chart.setOption(buildOption() as any);
    return () => chart.dispose();
  }, []);
  return <div ref={ref} style={{ width: 709, height: 704 }} />;
}
